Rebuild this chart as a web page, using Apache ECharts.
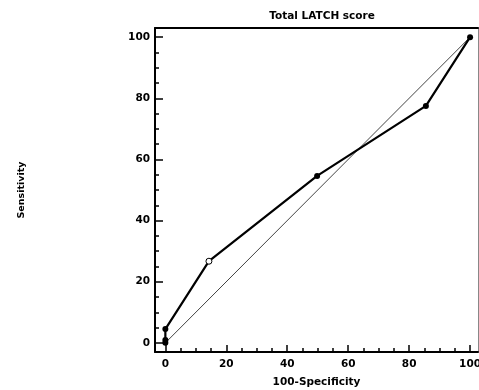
<!DOCTYPE html>
<html>
<head>
<meta charset="utf-8">
<script src="https://cdn.jsdelivr.net/npm/echarts@6/dist/echarts.min.js"></script>
<style>html,body{margin:0;padding:0;background:#fff;}#c{width:479px;height:390px;}</style>
</head>
<body>
<div id="c"></div>
<script>
var title = "Total LATCH score";
var xName = "100-Specificity";
var yName = "Sensitivity";
var fpr = [0, 0, 0, 14.3, 49.8, 85.5, 100];
var tpr = [0, 0.9, 4.5, 26.7, 54.6, 77.5, 100];
var openIndex = [3];
var diagX = [0, 100];
var diagY = [0, 100];
var majorTicks = [0, 20, 40, 60, 80, 100];
var minorTicks = [5, 10, 15, 25, 30, 35, 45, 50, 55, 65, 70, 75, 85, 90, 95];
var xMin = -3.4, xMax = 102.6;
var yMin = -3, yMax = 103;

var FONT = 'DejaVu Sans';
var lab = {fontFamily: FONT, fontWeight: 'bold', fontSize: 10.5, color: '#000'};

var rocData = fpr.map(function (x, i) {
  var d = {value: [x, tpr[i]]};
  if (openIndex.indexOf(i) >= 0) {
    d.itemStyle = {color: '#fff', borderColor: '#000', borderWidth: 1};
  }
  return d;
});
var diagData = diagX.map(function (x, i) { return [x, diagY[i]]; });

function baseAxis(mn, mx, extra) {
  var a = {type: 'value', min: mn, max: mx, splitLine: {show: false}};
  for (var k in extra) a[k] = extra[k];
  return a;
}

var chart = echarts.init(document.getElementById('c'), null, {renderer: 'canvas'});
chart.setOption({
  animation: false,
  backgroundColor: '#fff',
  title: {text: title, left: 317, textAlign: 'center', top: 6,
    textStyle: {fontFamily: FONT, fontWeight: 'bold', fontSize: 10.5, color: '#000'}},
  grid: {left: 155, right: 1, top: 28, bottom: 38, containLabel: false, outerBoundsMode: 'none'},
  xAxis: [
    baseAxis(xMin, xMax, {position: 'bottom',
      axisLine: {show: true, onZero: false, lineStyle: {color: '#000', width: 2}},
      axisTick: {show: true, inside: true, length: 7, customValues: majorTicks, lineStyle: {color: '#000', width: 1.5}},
      axisLabel: Object.assign({show: true, margin: 7, customValues: majorTicks}, lab),
      name: xName, nameLocation: 'middle', nameGap: 25,
      nameTextStyle: lab}),
    baseAxis(xMin, xMax, {position: 'bottom',
      axisLine: {show: false, onZero: false},
      axisTick: {show: true, inside: true, length: 4, customValues: minorTicks, lineStyle: {color: '#000', width: 1.5}},
      axisLabel: {show: false}}),
    baseAxis(xMin, xMax, {position: 'top',
      axisLine: {show: true, onZero: false, lineStyle: {color: '#000', width: 2}},
      axisTick: {show: false}, axisLabel: {show: false}})
  ],
  yAxis: [
    baseAxis(yMin, yMax, {position: 'left',
      axisLine: {show: true, onZero: false, lineStyle: {color: '#000', width: 2}},
      axisTick: {show: true, inside: true, length: 8, customValues: majorTicks, lineStyle: {color: '#000', width: 1.5}},
      axisLabel: Object.assign({show: true, margin: 5, customValues: majorTicks}, lab),
      name: yName, nameLocation: 'middle', nameGap: 128, nameRotate: 90,
      nameTextStyle: {fontFamily: FONT, fontWeight: 'bold', fontSize: 9.5, color: '#000'}}),
    baseAxis(yMin, yMax, {position: 'left',
      axisLine: {show: false, onZero: false},
      axisTick: {show: true, inside: true, length: 4, customValues: minorTicks, lineStyle: {color: '#000', width: 1.5}},
      axisLabel: {show: false}}),
    baseAxis(yMin, yMax, {position: 'right',
      axisLine: {show: true, onZero: false, lineStyle: {color: '#888', width: 1}},
      axisTick: {show: false}, axisLabel: {show: false}})
  ],
  series: [
    {type: 'line', xAxisIndex: 0, yAxisIndex: 0, data: diagData, symbol: 'none',
      lineStyle: {color: '#444', width: 1}, silent: true, z: 2},
    {type: 'line', xAxisIndex: 0, yAxisIndex: 0, data: rocData, symbol: 'circle', symbolSize: 6,
      itemStyle: {color: '#000'}, lineStyle: {color: '#000', width: 2.2}, z: 3}
  ]
});
</script>
</body>
</html>
